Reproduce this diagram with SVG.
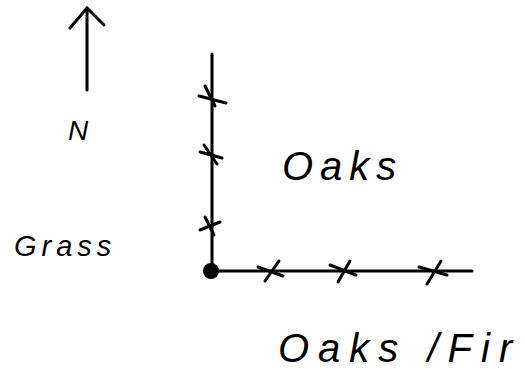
<svg xmlns="http://www.w3.org/2000/svg" width="525" height="376" viewBox="0 0 525 376">
<style>
.ln{stroke:#000;stroke-width:3;fill:none;stroke-linecap:round}
.x{stroke:#000;stroke-width:3;fill:none;stroke-linecap:round}
.t{font-family:"Liberation Sans",Arial,sans-serif;font-style:italic;fill:#000}
</style>
<rect width="525" height="376" fill="#fff"/>
<g id="north">
<path class="ln" d="M87 90 L87 8 M70 28 L87 8 L104 25"/>
<text class="t" x="68" y="140" font-size="28">N</text>
</g>
<g id="connectors">
<path class="ln" d="M212 54 L212 271 L472 271"/>
<circle cx="211" cy="271" r="8" fill="#000"/>
<g class="x">
<path d="M199 96 L226 103 M205 86 L215 106"/>
<path d="M200 152 L222 158 M204 145 L217 164"/>
<path d="M200 230 L220 222 M205 217 L214 235"/>
<path d="M258 267 L283 276 M279 261 L265 281"/>
<path d="M330 265 L356 275 M350 261 L338 282"/>
<path d="M419 267 L447 275 M441 261 L427 284"/>
</g>
</g>
<g id="oaks"><text class="t" x="282" y="180" font-size="40" letter-spacing="7">Oaks</text></g>
<g id="grass"><text class="t" x="14" y="256" font-size="29" letter-spacing="5">Grass</text></g>
<g id="oaksfir"><text class="t" x="278" y="362" font-size="40" letter-spacing="9">Oaks /Fir</text></g>
</svg>
